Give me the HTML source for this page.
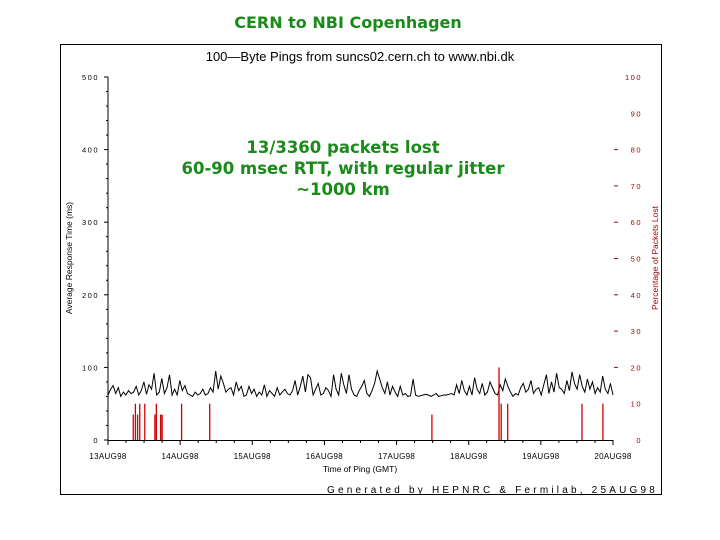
<!DOCTYPE html>
<html><head><meta charset="utf-8"><style>
body{margin:0;background:#fff;width:720px;height:540px;overflow:hidden}
svg{display:block}
</style></head><body>
<svg width="720" height="540" viewBox="0 0 720 540" font-family="Liberation Sans, sans-serif">
<text x="348" y="28" text-anchor="middle" font-size="16" font-weight="bold" font-family="DejaVu Sans, sans-serif" fill="#1a8a1a">CERN to NBI Copenhagen</text>
<rect x="60.5" y="44.5" width="601" height="450" fill="none" stroke="#000" stroke-width="1"/>
<text x="360" y="61" text-anchor="middle" font-size="13">100—Byte  Pings  from  suncs02.cern.ch  to  www.nbi.dk</text>
<g id="axes"></g>
<g id="marks"></g>
<g fill="#1a8a1a" font-size="16.5" font-weight="bold" font-family="DejaVu Sans, sans-serif" text-anchor="middle">
<text x="343" y="153">13/3360 packets lost</text>
<text x="343" y="174">60-90 msec RTT, with regular jitter</text>
<text x="343" y="195">~1000 km</text>
</g>
<text transform="translate(72,258) rotate(-90)" text-anchor="middle" font-size="8.5">Average Response Time (ms)</text>
<text transform="translate(658,258) rotate(-90)" text-anchor="middle" font-size="8.5" fill="#a00">Percentage of Packets Lost</text>
<text x="360" y="472" text-anchor="middle" font-size="8.5">Time of Ping (GMT)</text>
<text x="658" y="493" text-anchor="end" font-size="10" letter-spacing="3.2">Generated by HEPNRC &amp; Fermilab, 25AUG98</text>
</svg>
<script>
const dayLabels=["13AUG98","14AUG98","15AUG98","16AUG98","17AUG98","18AUG98","19AUG98","20AUG98"];
const rttTicks=[0,100,200,300,400,500];
const lossTicks=[0,10,20,30,40,50,60,70,80,90,100];
const rtt=[62,70,75,64,72,60,66,62,68,64,66,74,62,68,80,63,76,70,92,62,66,85,64,72,90,62,70,62,82,68,75,64,62,60,66,62,64,70,62,64,72,66,95,70,88,78,66,70,72,62,80,68,74,60,62,74,64,70,60,66,62,76,60,68,64,60,72,62,66,70,64,62,68,82,62,74,88,66,90,86,62,70,78,62,64,72,68,60,90,70,62,92,76,64,90,70,62,60,68,74,82,64,60,68,78,95,84,72,64,80,62,74,66,60,74,62,64,60,61,84,62,60,61,62,63,62,60,62,64,60,61,62,62,63,64,62,76,64,82,68,62,74,62,86,70,64,78,62,66,80,72,64,62,76,68,84,74,66,60,64,62,72,78,66,70,82,64,70,72,62,76,90,64,80,66,92,72,70,64,82,68,94,78,70,90,74,66,84,70,80,64,72,66,88,70,64,78,62];
const lossDay=[0.35,0.38,0.41,0.44,0.51,0.65,0.67,0.73,0.75,1.02,1.41,4.49,5.42,5.45,5.54,6.57,6.86];
const lossPct=[7,10,7,10,10,7,10,7,7,10,10,7,20,10,10,10,10];
const NS='http://www.w3.org/2000/svg';
const x0=108,x1=613,yb=440,yt=77;
const xs=d=>x0+d*(x1-x0)/7;
const yr=v=>yb-(v/500)*(yb-yt);
const yl=p=>yb-(p/100)*(yb-yt);
const axes=document.getElementById('axes'),marks=document.getElementById('marks');
function mk(t,a,p){const e=document.createElementNS(NS,t);for(const k in a)e.setAttribute(k,a[k]);p.appendChild(e);return e;}
const ya=mk('line',{x1:x0,y1:yt,x2:x0,y2:yb,stroke:'#000'},axes);


const xa=mk('line',{x1:x0,y1:yb+0.5,x2:x1,y2:yb+0.5,stroke:'#000'},axes);


for(let v=0;v<=500;v+=20){mk('line',{x1:x0-(v%100?2:4),y1:yr(v),x2:x0,y2:yr(v),stroke:'#000'},axes);}
rttTicks.forEach(v=>{const t=mk('text',{x:99,y:yr(v)+3,'text-anchor':'end','font-size':7.5,'letter-spacing':1.5},axes);t.textContent=v;

});
lossTicks.forEach(v=>{const t=mk('text',{x:642,y:yl(v)+3,'text-anchor':'end','font-size':7.5,'letter-spacing':1.5,fill:'#a00'},axes);t.textContent=v;


if(v>=20&&v<=80)mk('line',{x1:614,y1:yl(v),x2:618,y2:yl(v),stroke:'#a00'},axes);});
for(let i=0;i<=28;i++){mk('line',{x1:xs(i/4),y1:yb,x2:xs(i/4),y2:yb+(i%4?3:5),stroke:'#000'},axes);}
dayLabels.forEach((l,i)=>{const t=mk('text',{x:xs(i),y:459,'text-anchor':'middle','font-size':8,'letter-spacing':0.3},axes);t.textContent=l;

});
const pts=rtt.map((v,i)=>xs(i*7/(rtt.length-1)).toFixed(1)+','+yr(v).toFixed(1)).join(' ');
const pl=mk('polyline',{points:pts,fill:'none',stroke:'#000','stroke-width':1},marks);


lossDay.forEach((d,i)=>{const l=mk('line',{x1:xs(d),y1:yb,x2:xs(d),y2:yl(lossPct[i]),stroke:'#c00','stroke-width':1.3},marks);

});
</script>
</body></html>
